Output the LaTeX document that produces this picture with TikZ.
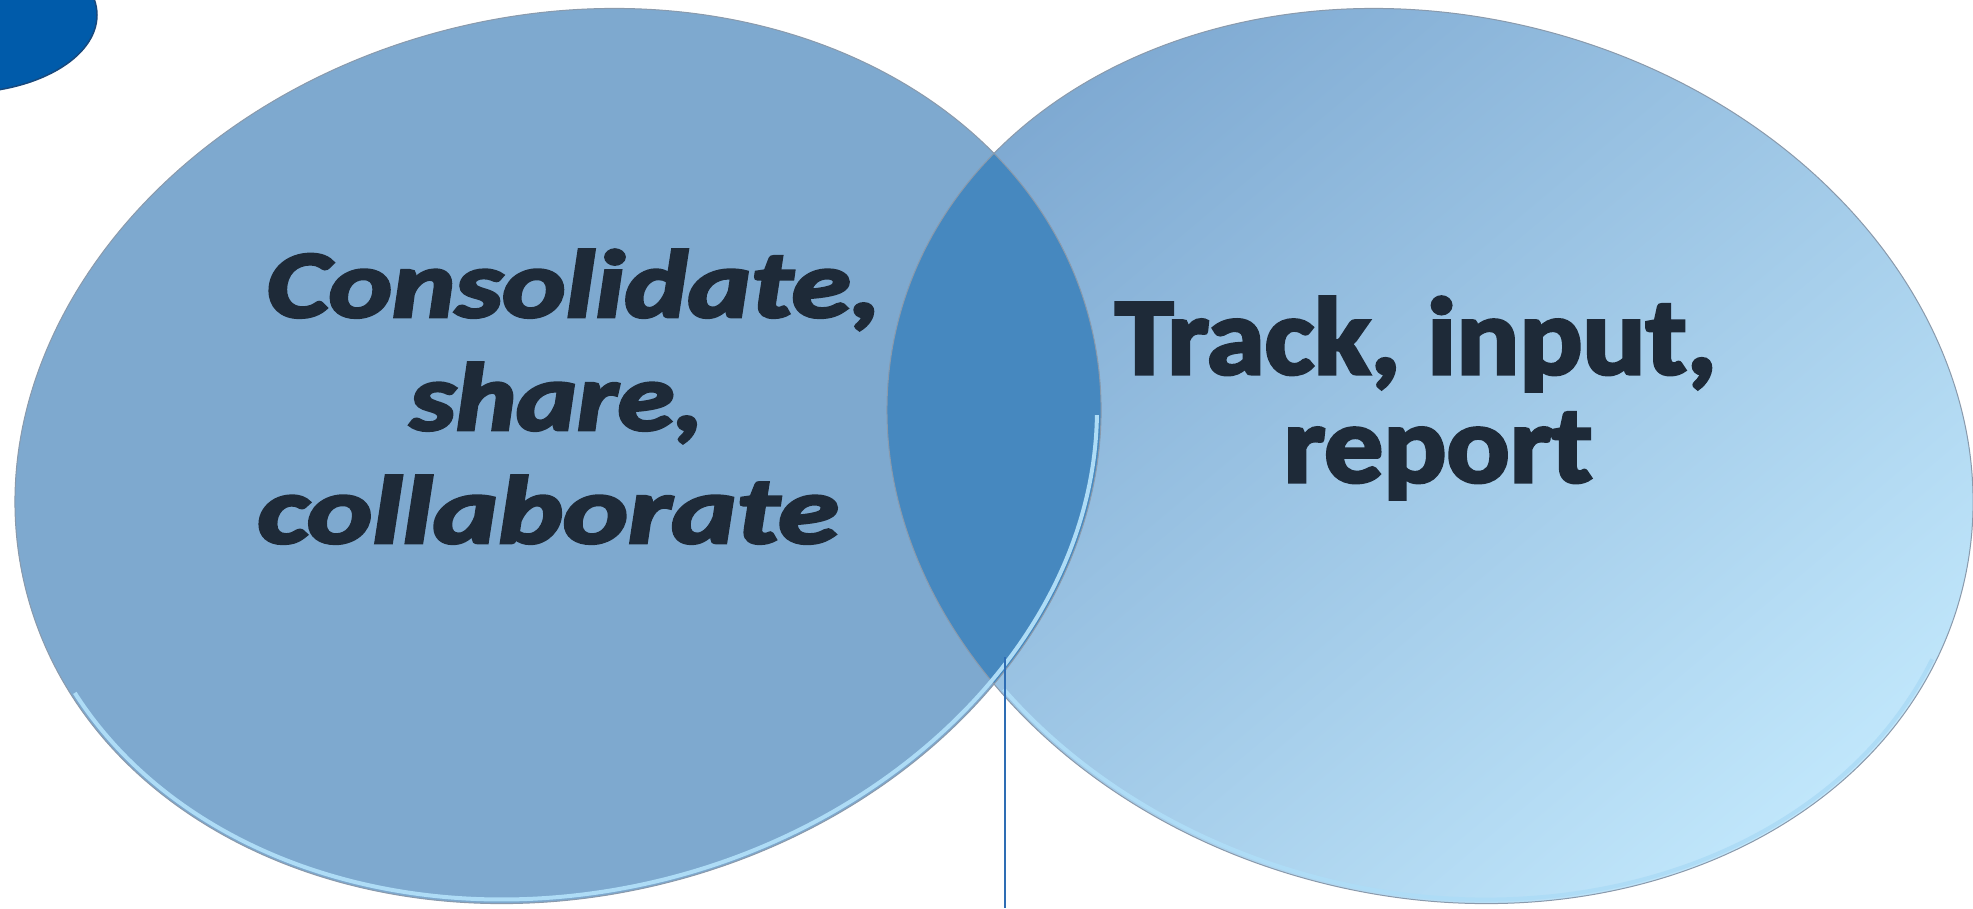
\documentclass[tikz,border=0pt]{standalone}
\usepackage{fontspec}
\setmainfont{Carlito}
\usetikzlibrary{calc}
\definecolor{leftfill}{HTML}{7EA9CF}
\definecolor{lensfill}{HTML}{4688BF}
\definecolor{rightA}{HTML}{7DA8D1}
\definecolor{rightB}{HTML}{C2E8FC}
\definecolor{rimlight}{HTML}{AEDCF6}
\definecolor{rimgray}{HTML}{8A9AAC}
\definecolor{darkblob}{HTML}{005BAA}
\definecolor{darkblobline}{HTML}{17497E}
\definecolor{txt}{HTML}{1E2A38}
\definecolor{vline}{HTML}{2E6DB4}
\tikzset{
  lefttext/.style={font=\fontsize{96}{100}\selectfont\bfseries\itshape\addfontfeature{FakeBold=3}, text=txt, anchor=base, inner sep=0pt, xscale=1.2},
  righttext/.style={font=\fontsize{110}{110}\selectfont\bfseries\addfontfeature{FakeBold=3}, text=txt, anchor=base, inner sep=0pt, xscale=1.07},
  rim/.style={line width=4pt, rimlight},
  edge/.style={line width=1pt, rimgray}
}
\begin{document}
\begin{tikzpicture}[x=1pt,y=-1pt]
\useasboundingbox (0,0) rectangle (1973,908);
\fill[white] (0,0) rectangle (1973,908);
\coordinate (cl) at (558,456);
\coordinate (cr) at (1430,456);
% dark blob top-left
\fill[darkblob, draw=darkblobline, line width=1.5pt] (-40,15) ellipse [x radius=137, y radius=78];
% left ellipse
\fill[leftfill, rotate around={14:(cl)}] (cl) ellipse [x radius=548.7, y radius=440.4];
% right ellipse
\shade[top color=rightA, bottom color=rightB, shading angle=40, rotate around={-14:(cr)}] (cr) ellipse [x radius=548.7, y radius=440.4];
% lens
\begin{scope}
  \clip[rotate around={14:(cl)}] (cl) ellipse [x radius=548.7, y radius=440.4];
  \fill[lensfill, rotate around={-14:(cr)}] (cr) ellipse [x radius=548.7, y radius=440.4];
\end{scope}
% outlines
\draw[edge, rotate around={14:(cl)}] (cl) ellipse [x radius=548.7, y radius=440.4];
\draw[edge, rotate around={-14:(cr)}] (cr) ellipse [x radius=548.7, y radius=440.4];
% rims (bevel highlights)
\draw[rim, rotate around={-14:(cr)}] ($(cr)+(10:544.7 and 436.4)$) arc[start angle=10, end angle=131, x radius=544.7, y radius=436.4];
\draw[rim, rotate around={14:(cl)}] ($(cl)+(12:544.7 and 436.4)$) arc[start angle=12, end angle=165, x radius=544.7, y radius=436.4];
% texts
\node[lefttext, xscale=1.04] (l1) at (574,317) {Consolidate,};
\node[lefttext] (l2) at (557,430) {share,};
\node[lefttext, xscale=1.07] (l3) at (548,543) {collaborate};
\node[righttext] (r1) at (1416,374) {Track, input,};
\node[righttext] (r2) at (1438,482) {report};
% vertical line
\coordinate (vt) at (1005,657);
\coordinate (vb) at (1005,908);
\draw[vline, line width=1.5pt] (vt) -- (vb);
\end{tikzpicture}
\end{document}
